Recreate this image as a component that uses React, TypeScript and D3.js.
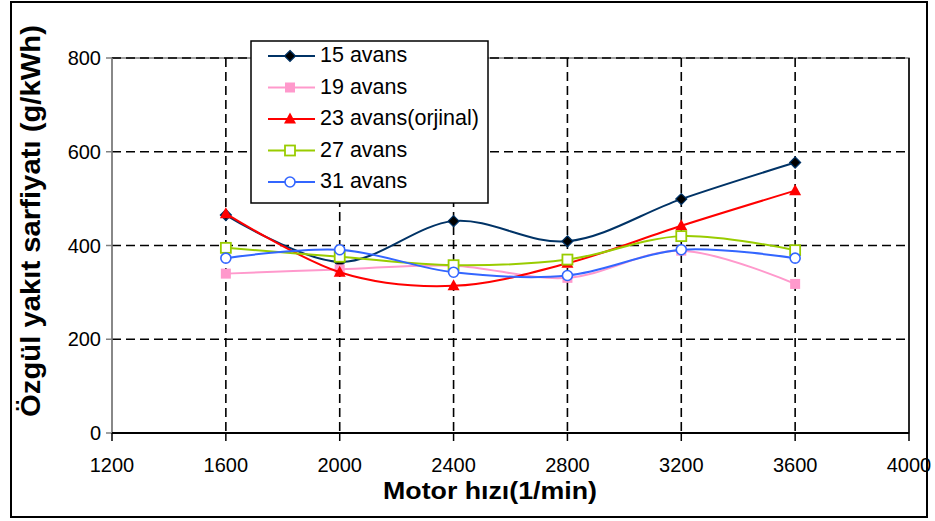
import React from "react";
import * as d3 from "d3";

const speeds = [1600, 2000, 2400, 2800, 3200, 3600];
const xTicks = [1200, 1600, 2000, 2400, 2800, 3200, 3600, 4000];
const yTicks = [0, 200, 400, 600, 800];

const s15 = [465, 365, 452, 409, 499, 577];
const s19 = [340, 349, 357, 331, 389, 318];
const s23 = [468, 343, 314, 362, 442, 517];
const s27 = [395, 376, 358, 370, 420, 390];
const s31 = [373, 391, 343, 336, 391, 373];

const seriesNames = ["15 avans", "19 avans", "23 avans(orjinal)", "27 avans", "31 avans"];

const W = 935;
const H = 521;
const plot = { left: 112, right: 909, top: 58, bottom: 433 };

type Series = { name: string; values: number[]; color: string; marker: string };

const series: Series[] = [
  { name: seriesNames[0], values: s15, color: "#003366", marker: "diamond" },
  { name: seriesNames[1], values: s19, color: "#ff99cc", marker: "square" },
  { name: seriesNames[2], values: s23, color: "#ff0000", marker: "triangle" },
  { name: seriesNames[3], values: s27, color: "#99cc00", marker: "osquare" },
  { name: seriesNames[4], values: s31, color: "#3366ff", marker: "circle" },
];

function Marker({ type, x, y, color }: { type: string; x: number; y: number; color: string }) {
  if (type === "diamond") {
    const r = 5.5;
    return (
      <path
        d={`M${x},${y - r}L${x + r},${y}L${x},${y + r}L${x - r},${y}Z`}
        fill="#000000"
        stroke="#003366"
        strokeWidth={1.2}
      />
    );
  }
  if (type === "square") {
    return <rect x={x - 5} y={y - 5} width={10} height={10} fill={color} />;
  }
  if (type === "triangle") {
    return <path d={`M${x},${y - 6.5}L${x + 6},${y + 4.5}L${x - 6},${y + 4.5}Z`} fill={color} />;
  }
  if (type === "osquare") {
    return (
      <rect x={x - 5} y={y - 5} width={10} height={10} fill="#ffffff" stroke={color} strokeWidth={1.8} />
    );
  }
  return <circle cx={x} cy={y} r={5} fill="#ffffff" stroke={color} strokeWidth={1.6} />;
}

export default function App() {
  const x = d3.scaleLinear().domain([1200, 4000]).range([plot.left, plot.right]);
  const y = d3.scaleLinear().domain([0, 800]).range([plot.bottom, plot.top]);
  const line = d3
    .line<number>()
    .x((_, i) => x(speeds[i]))
    .y((v) => y(v))
    .curve(d3.curveCardinal.tension(0));

  const font = "Arial, 'Liberation Sans', sans-serif";
  const legend = { x: 251, y: 41, w: 237, h: 162 };

  return (
    <div style={{ position: "absolute", left: 0, top: 0 }}>
      <svg width={W} height={H} style={{ display: "block" }} fontFamily={font}>
        <rect x={0} y={0} width={W} height={H} fill="#ffffff" />
        {/* outer frame */}
        <rect x={11} y={2} width={916} height={515} fill="none" stroke="#000" strokeWidth={2} />

        {/* plot area border */}
        <rect
          x={plot.left}
          y={plot.top}
          width={plot.right - plot.left}
          height={plot.bottom - plot.top}
          fill="none"
          stroke="#808080"
          strokeWidth={1.5}
        />
        <line x1={plot.right} x2={plot.right} y1={plot.top} y2={plot.bottom} stroke="#000" strokeWidth={1.5} />

        {/* horizontal gridlines */}
        {yTicks
          .filter((t) => t > 0)
          .map((t) => (
            <line
              key={"hg" + t}
              x1={plot.left}
              x2={plot.right}
              y1={y(t)}
              y2={y(t)}
              stroke="#000"
              strokeWidth={1.6}
              strokeDasharray="9,5"
            />
          ))}
        {/* vertical gridlines */}
        {xTicks
          .filter((t) => t > 1200 && t < 4000)
          .map((t) => (
            <line
              key={"vg" + t}
              x1={x(t)}
              x2={x(t)}
              y1={plot.top}
              y2={plot.bottom}
              stroke="#000"
              strokeWidth={1.6}
              strokeDasharray="9,5"
            />
          ))}

        {/* y axis */}
        <line x1={plot.left} x2={plot.left} y1={plot.top} y2={plot.bottom} stroke="#808080" strokeWidth={1.5} />
        {yTicks.map((t) => (
          <g key={"yt" + t}>
            <line x1={plot.left - 6} x2={plot.left} y1={y(t)} y2={y(t)} stroke="#808080" strokeWidth={1.5} />
            <text x={plot.left - 11} y={y(t) + 7} fontSize={20} textAnchor="end" fill="#000">
              {t}
            </text>
          </g>
        ))}

        {/* x axis */}
        <line x1={plot.left} x2={plot.right} y1={plot.bottom} y2={plot.bottom} stroke="#000" strokeWidth={1.8} />
        {xTicks.map((t) => (
          <g key={"xt" + t}>
            <line x1={x(t)} x2={x(t)} y1={plot.bottom} y2={plot.bottom + 8} stroke="#000" strokeWidth={1.5} />
            <text x={x(t)} y={472} fontSize={20} textAnchor="middle" fill="#000">
              {t}
            </text>
          </g>
        ))}

        {/* axis titles */}
        <text
          x={490}
          y={499}
          fontSize={24}
          fontWeight="bold"
          textAnchor="middle"
          textLength={214}
          lengthAdjust="spacingAndGlyphs"
        >
          Motor hızı(1/min)
        </text>
        <text
          transform="translate(40,221) rotate(-90)"
          fontSize={27}
          fontWeight="bold"
          textAnchor="middle"
          textLength={392}
          lengthAdjust="spacingAndGlyphs"
        >
          Özgül yakıt sarfiyatı (g/kWh)
        </text>

        {/* series */}
        {series.map((s) => (
          <g key={s.name}>
            <path d={line(s.values) || ""} fill="none" stroke={s.color} strokeWidth={2} />
            {s.values.map((v, i) => (
              <Marker key={i} type={s.marker} x={x(speeds[i])} y={y(v)} color={s.color} />
            ))}
          </g>
        ))}

        {/* legend */}
        <rect x={legend.x} y={legend.y} width={legend.w} height={legend.h} fill="#ffffff" stroke="#000" strokeWidth={1.5} />
        {series.map((s, i) => {
          const base = 62 + i * 31.5;
          const my = base - 6;
          return (
            <g key={"lg" + s.name}>
              <line x1={268} x2={315} y1={my} y2={my} stroke={s.color} strokeWidth={2} />
              <Marker type={s.marker} x={290} y={my} color={s.color} />
              <text x={320} y={base} fontSize={21.5} fill="#000">
                {s.name}
              </text>
            </g>
          );
        })}
      </svg>
    </div>
  );
}
